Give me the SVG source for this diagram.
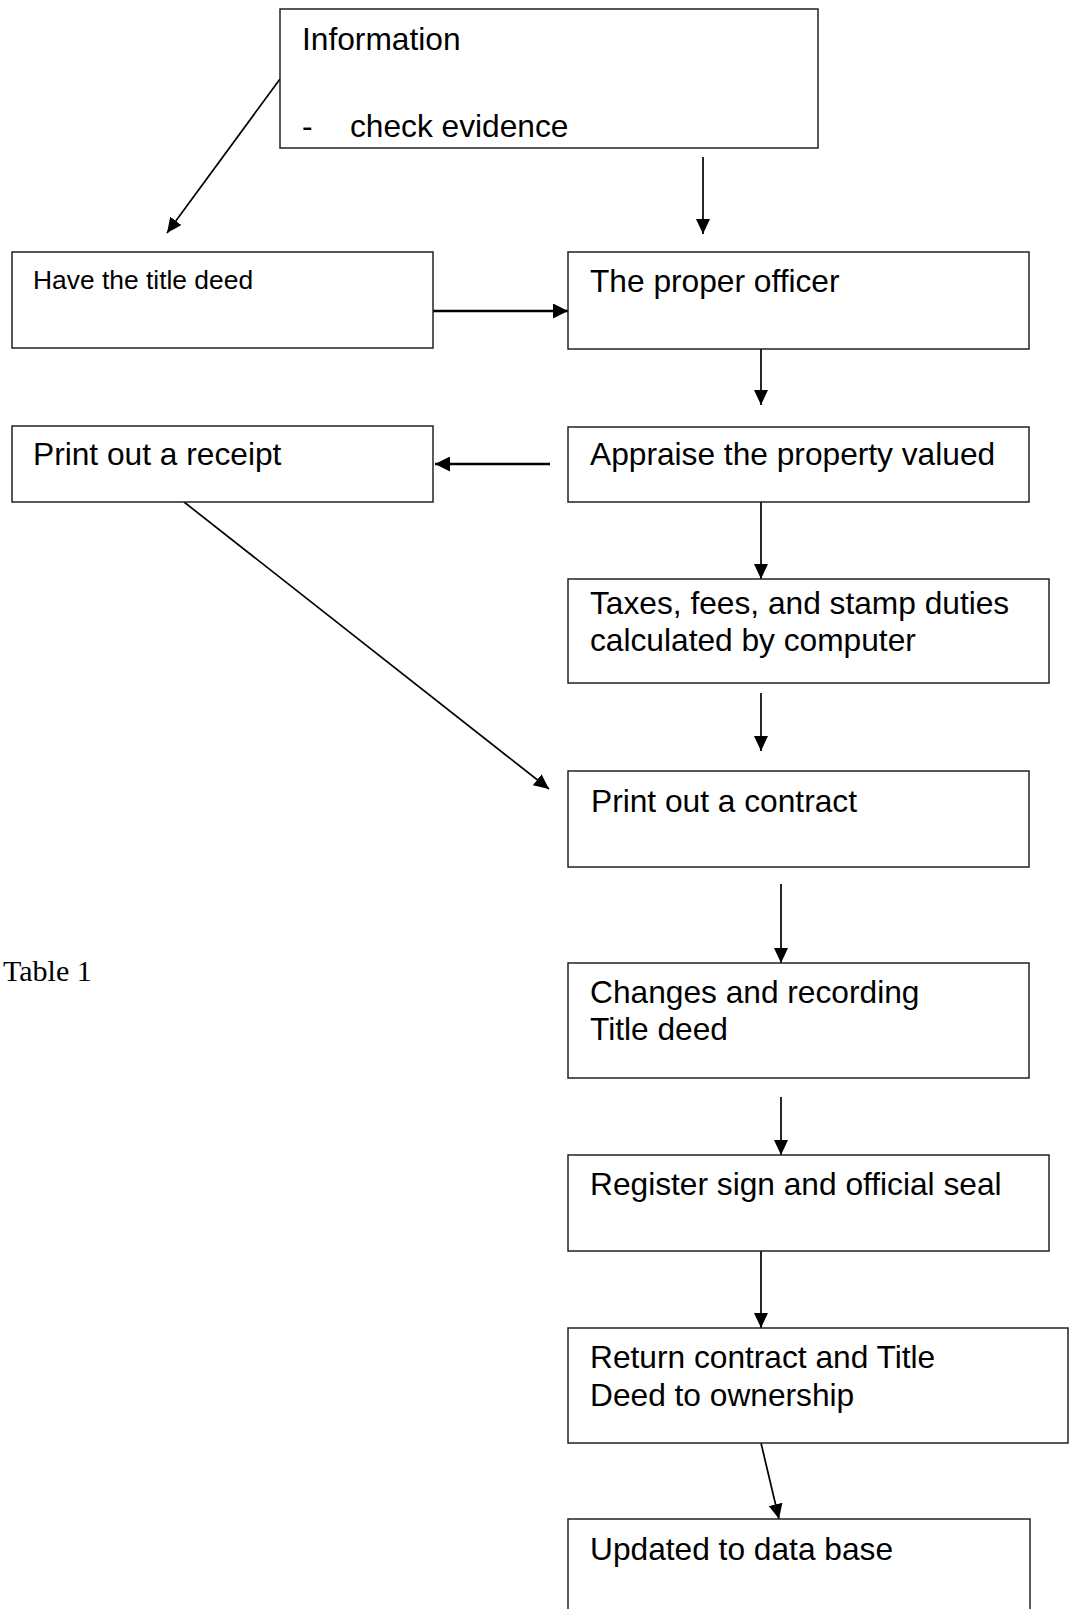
<svg xmlns="http://www.w3.org/2000/svg" width="1070" height="1609" viewBox="0 0 1070 1609">
<style>
.box{fill:#fff;stroke:#222;stroke-width:1.5}
.t{font-family:"Liberation Sans",Arial,sans-serif;font-size:31.7px;fill:#000}
.ts{font-family:"Liberation Sans",Arial,sans-serif;font-size:26.4px;fill:#000}
.tr{font-family:"Liberation Serif","Times New Roman",serif;font-size:30px;fill:#000}
.c{fill:none;stroke:#000;stroke-width:1.7}
.ck{fill:none;stroke:#000;stroke-width:2.6}
</style>
<defs>
<marker id="arr" markerUnits="userSpaceOnUse" viewBox="0 0 15 14" markerWidth="15" markerHeight="14" refX="15" refY="7" orient="auto"><path d="M0,0 L15,7 L0,14 Z" fill="#000"/></marker>
<marker id="arrk" markerUnits="userSpaceOnUse" viewBox="0 0 15 15" markerWidth="15" markerHeight="15" refX="15" refY="7.5" orient="auto"><path d="M0,0 L15,7.5 L0,15 Z" fill="#000"/></marker>
</defs>
<rect width="1070" height="1609" fill="#fff"/>
<g id="connectors">
<line class="c" x1="280" y1="79" x2="167" y2="233" marker-end="url(#arr)"/>
<line class="c" x1="703" y1="157" x2="703" y2="234" marker-end="url(#arr)"/>
<line class="ck" x1="433" y1="311" x2="568" y2="311" marker-end="url(#arrk)"/>
<line class="c" x1="761" y1="349" x2="761" y2="405" marker-end="url(#arr)"/>
<line class="ck" x1="550" y1="464" x2="435" y2="464" marker-end="url(#arrk)"/>
<line class="c" x1="761" y1="502" x2="761" y2="579" marker-end="url(#arr)"/>
<line class="c" x1="184" y1="502" x2="549" y2="789" marker-end="url(#arr)"/>
<line class="c" x1="761" y1="693" x2="761" y2="751" marker-end="url(#arr)"/>
<line class="c" x1="781" y1="884" x2="781" y2="963" marker-end="url(#arr)"/>
<line class="c" x1="781" y1="1097" x2="781" y2="1155" marker-end="url(#arr)"/>
<line class="c" x1="761" y1="1251" x2="761" y2="1328" marker-end="url(#arr)"/>
<line class="c" x1="761" y1="1443" x2="779" y2="1519" marker-end="url(#arr)"/>
</g>
<g id="info">
<rect class="box" x="280" y="9" width="538" height="139"/>
<text class="t" x="302" y="50">Information</text>
<text class="t" x="302" y="137">-</text>
<text class="t" x="350" y="137">check evidence</text>
</g>
<g id="have">
<rect class="box" x="12" y="252" width="421" height="96"/>
<text class="ts" x="33" y="289">Have the title deed</text>
</g>
<g id="proper">
<rect class="box" x="568" y="252" width="461" height="97"/>
<text class="t" x="590" y="292">The proper officer</text>
</g>
<g id="receipt">
<rect class="box" x="12" y="426" width="421" height="76"/>
<text class="t" x="33" y="465">Print out a receipt</text>
</g>
<g id="appraise">
<rect class="box" x="568" y="427" width="461" height="75"/>
<text class="t" x="590" y="465">Appraise the property valued</text>
</g>
<g id="taxes">
<rect class="box" x="568" y="579" width="481" height="104"/>
<text class="t" x="590" y="614">Taxes, fees, and stamp duties</text>
<text class="t" x="590" y="651">calculated by computer</text>
</g>
<g id="contract">
<rect class="box" x="568" y="771" width="461" height="96"/>
<text class="t" x="591" y="812">Print out a contract</text>
</g>
<g id="table-label">
<text class="tr" x="3" y="981">Table 1</text>
</g>
<g id="changes">
<rect class="box" x="568" y="963" width="461" height="115"/>
<text class="t" x="590" y="1003">Changes and recording</text>
<text class="t" x="590" y="1040">Title deed</text>
</g>
<g id="register">
<rect class="box" x="568" y="1155" width="481" height="96"/>
<text class="t" x="590" y="1195">Register sign and official seal</text>
</g>
<g id="return">
<rect class="box" x="568" y="1328" width="500" height="115"/>
<text class="t" x="590" y="1368">Return contract and Title</text>
<text class="t" x="590" y="1406">Deed to ownership</text>
</g>
<g id="updated">
<rect class="box" x="568" y="1519" width="462" height="100"/>
<text class="t" x="590" y="1560">Updated to data base</text>
</g>
</svg>
